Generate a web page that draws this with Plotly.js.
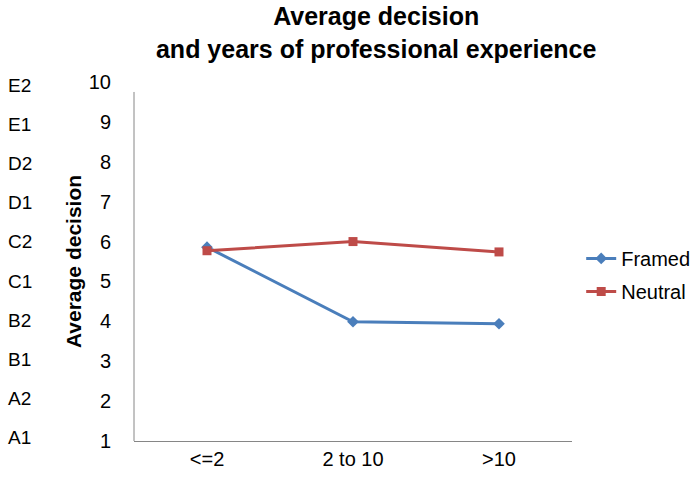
<!DOCTYPE html>
<html>
<head>
<meta charset="utf-8">
<script src="https://cdn.plot.ly/plotly-3.0.1.min.js"></script>
<style>
  html, body { margin: 0; padding: 0; background: #fff; }
  #chart { width: 695px; height: 477px; }
</style>
</head>
<body>
<div id="chart"></div>
<script>
// Experience groups on the x axis
const experience = ["<=2", "2 to 10", ">10"];

// Average decision per group
const framed = [5.86, 3.99, 3.94];
const neutral = [5.77, 6.0, 5.74];

// Decision scale levels and their letter codes
const scaleTicks = [1, 2, 3, 4, 5, 6, 7, 8, 9, 10];
const scaleCodes = ["A1", "A2", "B1", "B2", "C1", "C2", "D1", "D2", "E1", "E2"];

const FONT = "Liberation Sans, Arial, sans-serif";

const traces = [
  {
    x: experience, y: framed, name: "Framed", type: "scatter", mode: "lines+markers",
    legendgroup: "a",
    line: { color: "#4A7EBB", width: 3 },
    marker: { symbol: "diamond", size: 9, color: "#4A7EBB" }
  },
  {
    x: experience, y: neutral, name: "Neutral", type: "scatter", mode: "lines+markers",
    legendgroup: "b",
    line: { color: "#BE4B48", width: 3 },
    marker: { symbol: "square", size: 9, color: "#BE4B48" }
  }
];

// Letter codes down the left edge, evenly spread beside the numeric scale
const codeTop = 0.9916, codeBottom = 0.0084;
const codeAnnotations = scaleCodes.map((code, i) => ({
  text: code, xref: "paper", yref: "paper",
  x: -0.293, xanchor: "left",
  y: codeBottom + (codeTop - codeBottom) * i / (scaleCodes.length - 1), yanchor: "middle",
  showarrow: false, font: { family: FONT, size: 19, color: "#000" }
}));

const layout = {
  width: 695, height: 477,
  margin: { l: 134, r: 123, t: 82, b: 36, autoexpand: false },
  paper_bgcolor: "#fff", plot_bgcolor: "#fff",
  font: { family: FONT, size: 20, color: "#000" },
  title: {
    text: "<b>Average decision<br>and years of professional experience</b>",
    font: { family: FONT, size: 25, color: "#000" },
    xref: "paper", x: 0.553, xanchor: "center",
    yref: "container", y: 0.947, yanchor: "top"
  },
  xaxis: {
    type: "category",
    range: [-0.5, 2.5],
    showline: true, linecolor: "#868686", linewidth: 1,
    showgrid: false, zeroline: false,
    ticks: "",
    tickfont: { family: FONT, size: 20, color: "#000" }
  },
  yaxis: {
    range: [1, 10],
    tickvals: scaleTicks,
    showline: false, showgrid: false, zeroline: false,
    ticks: "outside", ticklen: 18, tickcolor: "rgba(0,0,0,0)",
    tickfont: { family: FONT, size: 20, color: "#000" },
    title: {
      text: "<b>Average decision</b>",
      font: { family: FONT, size: 21, color: "#000" },
      standoff: 1
    }
  },
  shapes: [
    { type: "line", xref: "paper", yref: "y", x0: 0, x1: 0, y0: 1, y1: 9.75,
      line: { color: "#868686", width: 1 } }
  ],
  annotations: codeAnnotations,
  showlegend: true,
  legend: {
    x: 1.021, xanchor: "left", y: 0.563, yanchor: "top",
    traceorder: "grouped", tracegroupgap: 4,
    font: { family: FONT, size: 20, color: "#000" },
    itemwidth: 30, bgcolor: "rgba(0,0,0,0)"
  }
};

Plotly.newPlot("chart", traces, layout, { displayModeBar: false, staticPlot: true });
</script>
</body>
</html>
